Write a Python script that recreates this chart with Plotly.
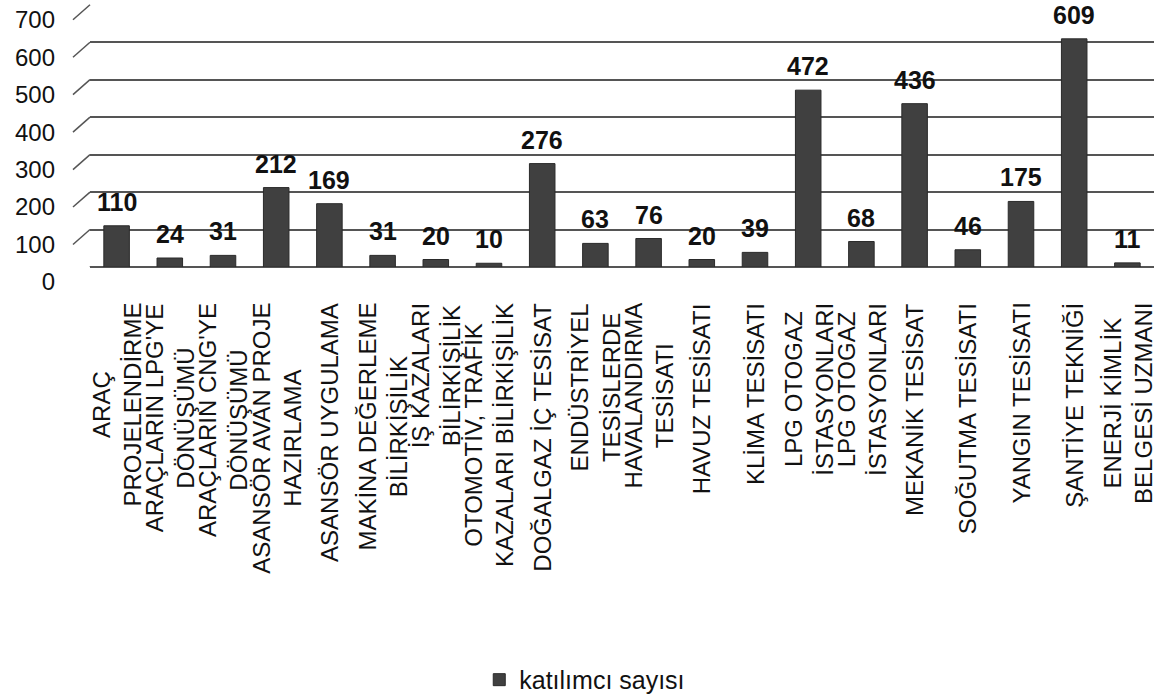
import plotly.graph_objects as go

categories = [
    "ARAÇ<br>PROJELENDİRME",
    "ARAÇLARIN LPG'YE<br>DÖNÜŞÜMÜ",
    "ARAÇLARIN CNG'YE<br>DÖNÜŞÜMÜ",
    "ASANSÖR AVAN PROJE<br>HAZIRLAMA",
    "ASANSÖR UYGULAMA",
    "MAKİNA DEĞERLEME<br>BİLİRKİŞİLİK",
    "İŞ KAZALARI<br>BİLİRKİŞİLİK",
    "OTOMOTİV, TRAFİK<br>KAZALARI BİLİRKİŞİLİK",
    "DOĞALGAZ İÇ TESİSAT",
    "ENDÜSTRİYEL<br>TESİSLERDE",
    "HAVALANDIRMA<br>TESİSATI",
    "HAVUZ TESİSATI",
    "KLİMA TESİSATI",
    "LPG OTOGAZ<br>İSTASYONLARI",
    "LPG OTOGAZ<br>İSTASYONLARI",
    "MEKANİK TESİSAT",
    "SOĞUTMA TESİSATI",
    "YANGIN TESİSATI",
    "ŞANTİYE TEKNİĞİ",
    "ENERJİ KİMLİK<br>BELGESİ UZMANI",
]
values = [110, 24, 31, 212, 169, 31, 20, 10, 276, 63, 76, 20, 39, 472, 68, 436, 46, 175, 609, 11]
series_name = "katılımcı sayısı"
y_ticks = [0, 100, 200, 300, 400, 500, 600, 700]

FONT = "Liberation Sans, Arial, sans-serif"

xs = list(range(len(categories)))

fig = go.Figure()
fig.add_trace(go.Bar(
    x=xs,
    y=values,
    name=series_name,
    marker=dict(color="#404040", line=dict(color="#2a2a2a", width=1)),
    width=0.48,
    showlegend=True,
))

annotations = []
# value labels sitting a little above each bar
for xi, v in zip(xs, values):
    annotations.append(dict(x=xi, y=v, xref="x", yref="y", text=str(v),
                            showarrow=False, yanchor="bottom", yshift=8,
                            font=dict(family=FONT, size=25, color="#111111", weight="bold")))
# rotated category labels, lines centred on each other, hanging below the axis
for xi, c in zip(xs, categories):
    annotations.append(dict(x=xi, y=0, xref="x", yref="paper", text=c,
                            showarrow=False, textangle=-90, align="center",
                            xanchor="center", yanchor="top", yshift=-34,
                            font=dict(family=FONT, size=24, color="#111111")))

# diagonal stubs of the 3D wall, one per y tick
shapes = []
for v in y_ticks:
    shapes.append(dict(type="line", xref="paper", yref="y",
                       x0=-0.016, y0=v - 40, x1=0, y1=v,
                       line=dict(color="#555555", width=1.5)))

fig.update_layout(
    width=1164, height=697,
    margin=dict(l=90, r=10, t=4, b=430, autoexpand=False),
    paper_bgcolor="white", plot_bgcolor="white",
    font=dict(family=FONT, color="#111111"),
    bargap=0.5,
    shapes=shapes,
    annotations=annotations,
    xaxis=dict(
        tickmode="array",
        tickvals=xs,
        showticklabels=False,
        range=[-0.5, len(categories) - 0.5],
        showgrid=False, zeroline=False, showline=False,
        ticks="", automargin=False,
    ),
    yaxis=dict(
        range=[0, 702],
        tickvals=y_ticks,
        showgrid=True, gridcolor="#555555", gridwidth=1.5,
        zeroline=True, zerolinecolor="#555555", zerolinewidth=1.5,
        showline=False, ticks="", automargin=False,
        ticklabelshift=15, ticklabelstandoff=34,
        tickfont=dict(family=FONT, size=24, color="#111111"),
    ),
    legend=dict(
        orientation="h", x=0.465, xanchor="center", y=-1.57, yanchor="middle",
        font=dict(family=FONT, size=25, color="#111111"),
        itemwidth=30,
    ),
)

fig.write_html("out.html", config={"displayModeBar": False},
               post_script="document.body.style.margin='0';")
